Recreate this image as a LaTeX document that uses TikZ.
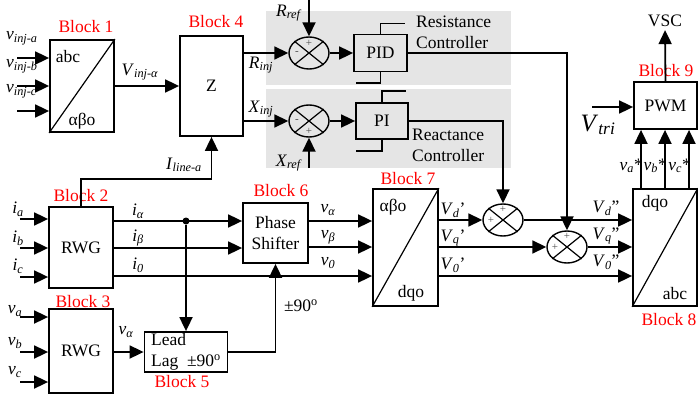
\documentclass[tikz,border=0pt]{standalone}
\usepackage{fontspec}
\setmainfont{Liberation Serif}
\usetikzlibrary{calc, positioning}
\usetikzlibrary{arrows.meta}
\usetikzlibrary{shapes.geometric}
\newcommand{\sig}[2]{\textit{#1}\textsubscript{\textit{#2}}}

\begin{document}
\begin{tikzpicture}[x=1pt,y=-1pt,
  font=\fontsize{17.5}{21}\selectfont,
  blk/.style={draw, line width=1.8pt, inner sep=0pt},
  ln/.style={line width=1.8pt},
  arr/.style={line width=1.8pt, -{Triangle[length=14pt,width=13pt]}},
  sum/.style={draw, ellipse, line width=1.4pt, minimum width=40pt, minimum height=32pt, inner sep=0pt},
  sgn/.style={font=\fontsize{11}{11}\selectfont, text=black!70, inner sep=0pt},
  tag/.style={text=red, inner sep=0pt},
  lbl/.style={inner sep=0pt}]
\useasboundingbox (0,0) rectangle (698,401);
\fill[gray!20] (266,11) rectangle (511,85);
\fill[gray!20] (266,89) rectangle (511,168);

\node[blk, minimum width=64pt, minimum height=92pt] (b1) at (82,86) {};
\node[blk, minimum width=63pt, minimum height=100pt] (b4) at (211.5,86) {Z};
\node[blk, minimum width=64pt, minimum height=81pt] (b2) at (81,247.5) {RWG};
\node[blk, minimum width=64pt, minimum height=84pt] (b3) at (81,351) {RWG};
\node[blk, minimum width=83pt, minimum height=40pt, align=left] (b5) at (186,352) {Lead\\Lag ~±90\textsuperscript{o}};
\node[blk, minimum width=65pt, minimum height=60pt, align=center] (b6) at (275.5,233) {Phase\\Shifter};
\node[blk, minimum width=65pt, minimum height=117pt] (b7) at (405.5,247.5) {};
\node[blk, minimum width=64pt, minimum height=117pt] (b8) at (665,247.5) {};
\node[blk, minimum width=63pt, minimum height=47pt] (pwm) at (665.5,105.5) {PWM};
\node[blk, minimum width=53pt, minimum height=37pt] (pid) at (380.5,53) {PID};
\node[blk, minimum width=52pt, minimum height=36pt] (pi) at (382,121) {PI};
\node[sum] (sumr) at (309,53) {};
\node[sum] (sumx) at (309,121) {};
\node[sum] (sumd) at (503,220) {};
\node[sum] (sumq) at (567,247) {};
\foreach \s in {sumr,sumx,sumd,sumq}
  \draw[line width=1.2pt] (\s.north west) -- (\s.south east) (\s.north east) -- (\s.south west);

\foreach \b in {b1,b7,b8}
  \draw[line width=1.2pt] (\b.south west) -- (\b.north east);
\node at (68,57) {abc};
\node at (82,121) {αβo};
\node at (393,207) {αβo};
\node at (411,293) {dqo};
\node at (655,203) {dqo};
\node at (675,294) {abc};

\node[tag] at (86,27) {Block 1};
\node[tag] at (81,196) {Block 2};
\node[tag] at (83,302) {Block 3};
\node[tag] at (216,22) {Block 4};
\node[tag] at (182,382) {Block 5};
\node[tag] at (281,191) {Block 6};
\node[tag] at (408,179) {Block 7};
\node[tag] at (669,320) {Block 8};
\node[tag] at (666,71) {Block 9};

\foreach \y/\n in {58/a,86/b,111/c} {
  \coordinate (vi\n) at (17,\y);
  \draw[arr] (vi\n) -- (vi\n -| b1.west);
  \node[lbl, anchor=west] at (6,\y-20) {\sig{v}{inj-\n}};
}
\foreach \y/\ly/\n in {219/209/a,248/238/b,277/266/c} {
  \coordinate (ii\n) at (20,\y);
  \draw[arr] (ii\n) -- (ii\n -| b2.west);
  \node[lbl] at (18,\ly) {\sig{i}{\n}};
}
\foreach \y/\ly/\n in {317/311/a,352/343/b,382/372/c} {
  \coordinate (vv\n) at (20,\y);
  \draw[arr] (vv\n) -- (vv\n -| b3.west);
  \node[lbl] at (15,\ly) {\sig{v}{\n}};
}

\draw[arr] (b1.east) -- (b4.west);
\node[lbl] at (140,72) {\sig{V}{inj-α}};
\draw[arr] (b2.north) |- (b4.south |- 0,179) -- (b4.south);
\node[lbl] at (184,165) {\sig{I}{line-a}};

\draw[arr] (sumr.west -| b4.east) -- (sumr.west);
\node[lbl] at (261,65) {\sig{R}{inj}};
\draw[arr] (sumx.west -| b4.east) -- (sumx.west);
\node[lbl] at (261,109) {\sig{X}{inj}};
\coordinate (rref) at (309,0);
\draw[arr] (rref) -- (sumr.north);
\node[lbl] at (289,13) {\sig{R}{ref}};
\coordinate (xref) at (309,168);
\draw[arr] (xref) -- (sumx.south);
\node[lbl] at (289,163) {\sig{X}{ref}};
\node[sgn] at ($(sumr)+(0,-10)$) {+};
\node[sgn] at ($(sumr)+(-12,0)$) {-};
\node[sgn] at ($(sumx)+(-12,0)$) {-};
\node[sgn] at ($(sumx)+(0,10)$) {+};
\node[sgn] at ($(sumd)+(0,-11)$) {+};
\node[sgn] at ($(sumd)+(-12,0)$) {+};
\node[sgn] at ($(sumq)+(0,-11)$) {+};
\node[sgn] at ($(sumq)+(-12,0)$) {+};

\draw[arr] (sumr.east) -- (pid.west);
\draw[arr] (sumx.east) -- (pi.west);
\draw[ln] (pid.north) -- ++(0,-10) -- ++(24,0);
\draw[ln] (pid.south) -- ++(0,11) -- ++(-25,0);
\draw[ln] (pi.north) -- ++(0,-11) -- ++(24,0);
\draw[ln] (pi.south) -- ++(0,11) -- ++(-26,0);
\node[lbl, anchor=west, align=left] at (416,32) {Resistance\\Controller};
\node[lbl, anchor=west, align=left] at (412,145) {Reactance\\Controller};
\draw[arr] (pid.east) -| (sumq.north);
\draw[arr] (pi.east) -| (sumd.north);

\node[circle, fill, inner sep=0pt, minimum size=7pt] (dot) at (186,221) {};
\draw[arr] (b2.east |- 0,221) -- (b6.west |- 0,221);
\draw[arr] (b2.east |- 0,248) -- (b6.west |- 0,248);
\draw[arr] (b2.east |- 0,276) -- (b7.west |- 0,276);
\node[lbl] at (138,211) {\sig{i}{α}};
\node[lbl] at (138,238) {\sig{i}{β}};
\node[lbl] at (138,265) {\sig{i}{0}};
\draw[arr] (dot) -- (b5.north);
\draw[arr] (b3.east |- b5.west) -- (b5.west);
\node[lbl] at (126,332) {\sig{v}{α}};
\draw[arr] (b5.east) -| (b6.south);
\node[lbl] at (301,306) {±90\textsuperscript{o}};

\draw[arr] (b6.east |- 0,221) -- (b7.west |- 0,221);
\draw[arr] (b6.east |- 0,247) -- (b7.west |- 0,247);
\node[lbl] at (328,210) {\sig{v}{α}};
\node[lbl] at (328,237) {\sig{v}{β}};
\node[lbl] at (328,263) {\sig{v}{0}};

\draw[arr] (sumd.west -| b7.east) -- (sumd.west);
\draw[arr] (sumq.west -| b7.east) -- (sumq.west);
\draw[arr] (b7.east |- 0,276) -- (b8.west |- 0,276);
\node[lbl] at (453,210) {\sig{V}{d}’};
\node[lbl] at (453,238) {\sig{V}{q}’};
\node[lbl] at (453,265) {\sig{V}{0}’};
\draw[arr] (sumd.east) -- (sumd.east -| b8.west);
\draw[arr] (sumq.east) -- (sumq.east -| b8.west);
\node[lbl] at (606,208) {\sig{V}{d}”};
\node[lbl] at (606,236) {\sig{V}{q}”};
\node[lbl] at (606,262) {\sig{V}{0}”};

\foreach \dx/\n in {-24/a,0/b,24/c} {
  \draw[arr] ([xshift=\dx pt]b8.north) -- ([xshift=\dx pt]b8.north |- pwm.south);
  \node[lbl, anchor=east] at ([xshift=\dx pt+2pt]b8.north |- 0,166) {\sig{v}{\n}*};
}
\node[inner sep=3pt] (vsc) at (665,21) {VSC};
\draw[arr] (pwm.north) -- (vsc.south);
\coordinate (vt) at (592,107);
\draw[arr] (vt) -- (vt -| pwm.west);
\node[lbl, font=\fontsize{25}{25}\selectfont] at (598,125) {\sig{V}{tri}};
\end{tikzpicture}
\end{document}
